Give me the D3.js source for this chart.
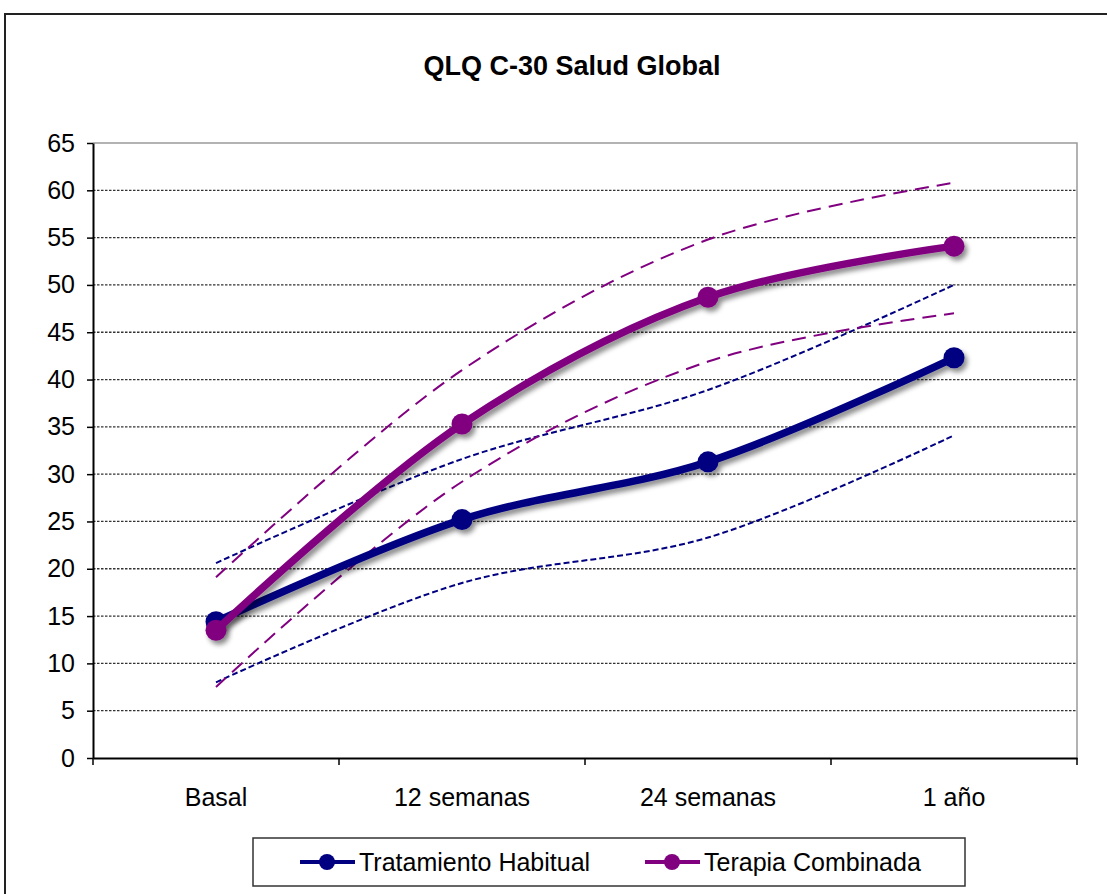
<!DOCTYPE html>
<html><head><meta charset="utf-8">
<script src="https://cdn.jsdelivr.net/npm/d3@7"></script>
<style>body{margin:0;background:#fff}svg{display:block}text{font-family:"Liberation Sans",Arial,sans-serif}</style>
</head><body>
<svg id="c" width="1107" height="894"></svg>
<script>
const categories = ["Basal", "12 semanas", "24 semanas", "1 año"];
const yTicks = [0,5,10,15,20,25,30,35,40,45,50,55,60,65];
const habitual = [14.4, 25.2, 31.3, 42.3];
const combinada = [13.5, 35.3, 48.7, 54.1];
const habitualUpper = [20.6, 31.6, 38.9, 50.0];
const habitualLower = [8.0, 18.5, 23.3, 34.1];
const combinadaUpper = [19.1, 41.0, 54.8, 60.8];
const combinadaLower = [7.5, 29.2, 41.9, 47.0];
const seriesNames = ["Tratamiento Habitual", "Terapia Combinada"];
const NAVY = "#000080", PURPLE = "#800080";
const FONT = "Liberation Sans, Arial, sans-serif";

const svg = d3.select("#c");
const defs = svg.append("defs");
const f = defs.append("filter").attr("id","sh").attr("x","-20%").attr("y","-20%").attr("width","140%").attr("height","140%");
f.append("feDropShadow").attr("dx",3).attr("dy",4).attr("stdDeviation",2.5).attr("flood-color","#000").attr("flood-opacity",0.45);

// outer frame
svg.append("rect").attr("x",5).attr("y",14).attr("width",1300).attr("height",1000)
  .attr("fill","#fff").attr("stroke","#222").attr("stroke-width",2);

svg.append("text").attr("x",572).attr("y",75).attr("text-anchor","middle")
  .attr("font-size",27).attr("font-weight","bold").text("QLQ C-30 Salud Global");

const L=93, R=1077, T=143, B=758;
const x = d3.scaleBand().domain(categories).range([L,R]).padding(0);
const cx = c => x(c) + x.bandwidth()/2;
const y = d3.scaleLinear().domain([0,65]).range([B,T]);

// plot border (top/right gray)
svg.append("path").attr("d",`M${L},${T}H${R}V${B}`).attr("fill","none").attr("stroke","#9a9a9a").attr("stroke-width",1.5);

// gridlines
svg.append("g").selectAll("line").data(yTicks.filter(v=>v>0&&v<65)).join("line")
  .attr("x1",L).attr("x2",R).attr("y1",d=>y(d)).attr("y2",d=>y(d))
  .attr("stroke","#333").attr("stroke-width",1.3).attr("stroke-dasharray","2.5,1.5");

// y axis
const ya = svg.append("g").attr("transform",`translate(${L},0)`)
  .call(d3.axisLeft(y).tickValues(yTicks).tickSize(6).tickPadding(12).tickSizeOuter(0));
ya.select(".domain").attr("stroke","#000").attr("stroke-width",2);
ya.selectAll(".tick line").attr("stroke","#000").attr("stroke-width",1.5);
ya.selectAll("text").attr("font-size",25).attr("fill","#000").attr("font-family",FONT);

// x axis
const xa = svg.append("g").attr("transform",`translate(0,${B})`)
  .call(d3.axisBottom(x).tickSize(0).tickPadding(30));
xa.select(".domain").attr("stroke","#000").attr("stroke-width",2);
xa.selectAll("text").attr("font-size",25).attr("fill","#000").attr("font-family",FONT);
svg.append("g").selectAll("line").data(d3.range(categories.length+1)).join("line")
  .attr("x1",i=>L+i*x.step()).attr("x2",i=>L+i*x.step()).attr("y1",B).attr("y2",B+7)
  .attr("stroke","#000").attr("stroke-width",1.5);

const line = d3.line().x((d,i)=>cx(categories[i])).y(d=>y(d)).curve(d3.curveCatmullRom.alpha(0.5));

// CI dashed lines
const ci = [
  [habitualUpper, NAVY, "6,3"],
  [habitualLower, NAVY, "6,3"],
  [combinadaUpper, PURPLE, "14,8"],
  [combinadaLower, PURPLE, "14,8"]
];
ci.forEach(([data,col,dash])=>{
  svg.append("path").datum(data).attr("d",line).attr("fill","none")
    .attr("stroke",col).attr("stroke-width",2).attr("stroke-dasharray",dash);
});

// main series
[[habitual,NAVY],[combinada,PURPLE]].forEach(([data,col])=>{
  const g = svg.append("g").attr("filter","url(#sh)");
  g.append("path").datum(data).attr("d",line).attr("fill","none")
    .attr("stroke",col).attr("stroke-width",7.5).attr("stroke-linejoin","round");
  g.selectAll("circle").data(data).join("circle")
    .attr("cx",(d,i)=>cx(categories[i])).attr("cy",d=>y(d)).attr("r",10.5).attr("fill",col);
});

// legend
const lg = svg.append("g");
lg.append("rect").attr("x",253).attr("y",838).attr("width",712).attr("height",48)
  .attr("fill","#fff").attr("stroke","#333").attr("stroke-width",1.5);
const legendItems = [[seriesNames[0],NAVY,300],[seriesNames[1],PURPLE,645]];
legendItems.forEach(([name,col,lx])=>{
  lg.append("line").attr("x1",lx).attr("x2",lx+55).attr("y1",862).attr("y2",862).attr("stroke",col).attr("stroke-width",4);
  lg.append("circle").attr("cx",lx+27).attr("cy",862).attr("r",8).attr("fill",col);
  lg.append("text").attr("x",lx+59).attr("y",871).attr("font-size",25).text(name);
});
</script>
</body></html>
